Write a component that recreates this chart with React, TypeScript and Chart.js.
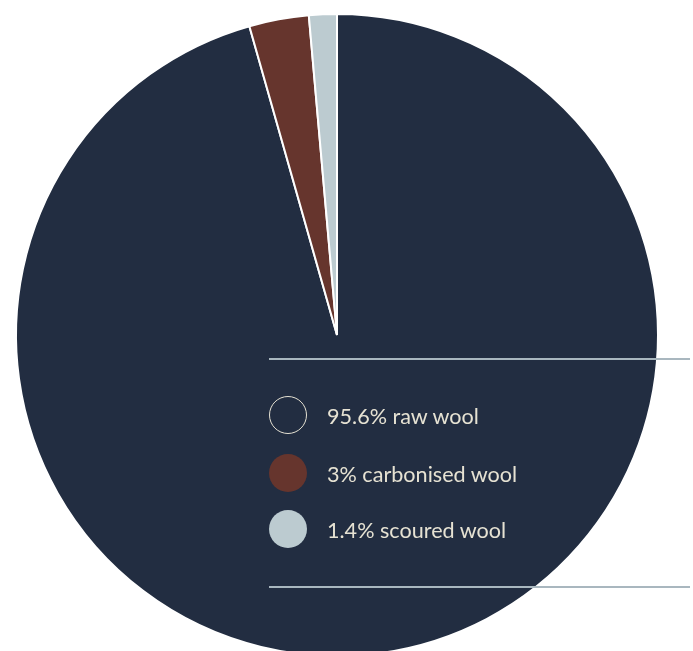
import React, { useEffect, useRef } from "react";
import { Chart, registerables } from "chart.js";

Chart.register(...registerables);

const categories = ["raw wool", "carbonised wool", "scoured wool"];
const values = [95.6, 3, 1.4];
const labels = ["95.6% raw wool", "3% carbonised wool", "1.4% scoured wool"];
const colors = ["#222d41", "#66352d", "#bccbd0"];

export default function App() {
  const ref = useRef<HTMLCanvasElement | null>(null);

  useEffect(() => {
    document.body.style.margin = "0";
    const chart = new Chart(ref.current!, {
      type: "pie",
      data: {
        labels: categories,
        datasets: [
          {
            data: values,
            backgroundColor: colors,
            borderColor: "#ffffff",
            borderWidth: 2,
          },
        ],
      },
      options: {
        responsive: false,
        animation: false,
        layout: { padding: { left: 15, top: 13, right: 34, bottom: 17 } },
        plugins: { legend: { display: false }, tooltip: { enabled: false } },
      },
    });
    return () => chart.destroy();
  }, []);

  const legendTop = [415, 473, 529];

  return (
    <div
      style={{
        position: "fixed",
        left: 0,
        top: 0,
        width: 693,
        height: 651,
        overflow: "hidden",
        background: "#ffffff",
      }}
    >
      <canvas ref={ref} width={693} height={674} style={{ position: "absolute", left: 0, top: 0 }} />
      <div style={{ position: "absolute", left: 269, top: 358, width: 421, height: 2, background: "#a9b7bf" }} />
      <div style={{ position: "absolute", left: 269, top: 586, width: 421, height: 2, background: "#a9b7bf" }} />
      {labels.map((t, i) => (
        <div key={t}>
          <div
            style={{
              position: "absolute",
              left: 269,
              top: legendTop[i] - 19,
              width: 38,
              height: 38,
              boxSizing: "border-box",
              borderRadius: "50%",
              background: i === 0 ? "transparent" : colors[i],
              border: i === 0 ? "1.5px solid #e6e2d3" : "none",
            }}
          />
          <div
            style={{
              position: "absolute",
              left: 327,
              top: legendTop[i] - 12,
              fontFamily: "Lato, 'Open Sans', sans-serif",
              fontSize: 21.6,
              lineHeight: "26px",
              color: "#e6e2d3",
              whiteSpace: "nowrap",
            }}
          >
            {t}
          </div>
        </div>
      ))}
    </div>
  );
}
